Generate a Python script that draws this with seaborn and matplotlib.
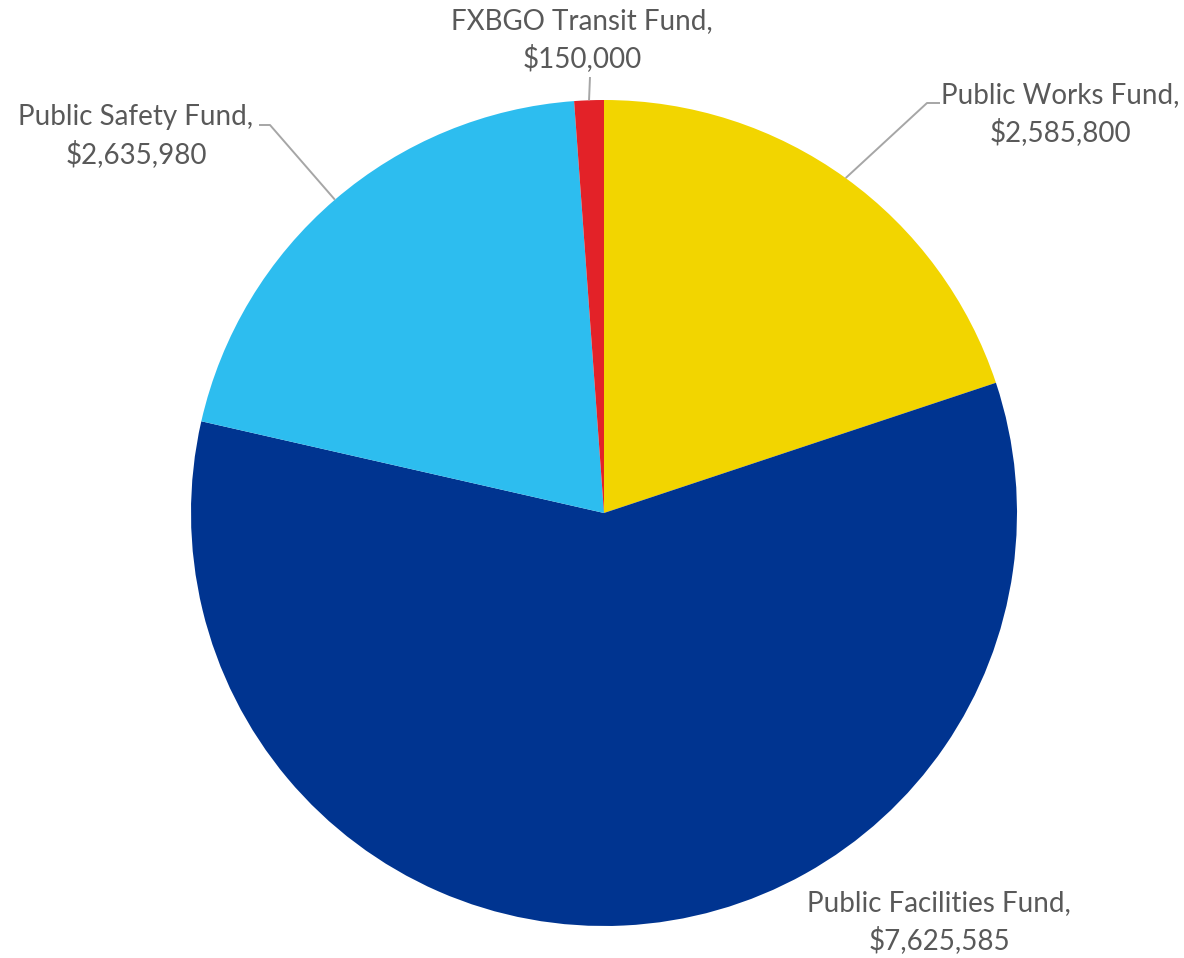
import matplotlib.pyplot as plt
import seaborn as sns
import numpy as np

sns.set_theme(style="white")
plt.rcParams['font.family'] = ['Lato', 'DejaVu Sans']

# ---- data ----
funds = ['Public Works Fund', 'Public Facilities Fund', 'Public Safety Fund', 'FXBGO Transit Fund']
amounts = [2585800, 7625585, 2635980, 150000]
colors = ['#F2D500', '#003490', '#2DBDEF', '#E32228']

TEXT = '#595959'
LINE = '#A6A6A6'

# figure is 1184x958 px; pie centre at (604, 513) px, radius 413 px
W, H, R = 1184, 958, 413
CX, CY = 604, 513
fig = plt.figure(figsize=(W / 100, H / 100), dpi=100)
ax = fig.add_axes([0, 0, 1, 1])

def px(x, y):
    # pixel position -> data position (radius 1 pie)
    return (x - CX) / R, (CY - y) / R

wedges, _ = ax.pie(amounts, colors=sns.color_palette(colors), startangle=90,
                   counterclock=False, radius=1,
                   wedgeprops=dict(linewidth=0))

ax.set_xlim(px(0, 0)[0], px(W, 0)[0])
ax.set_ylim(px(0, H)[1], px(0, 0)[1])
ax.set_aspect('auto')
ax.axis('off')

def mid_point(w):
    ang = np.deg2rad((w.theta1 + w.theta2) / 2)
    return np.cos(ang), np.sin(ang)

labels = [f'{f},\n${a:,.0f}' for f, a in zip(funds, amounts)]

# label text positions (pixels) and leader elbows
text_pos = [(1060, 114), (939, 922), (136, 136), (582, 40)]
leaders = [
    [(927, 103), (940, 103)],   # public works
    None,                       # public facilities, no leader
    [(270, 125), (259, 125)],   # public safety
    [(590, 77)],                # fxbgo
]

for w, lab, tp, ld in zip(wedges, labels, text_pos, leaders):
    tx, ty = px(*tp)
    ax.text(tx, ty, lab, ha='center', va='center', fontsize=20,
            color=TEXT, linespacing=1.45)
    if ld is not None:
        mx, my = mid_point(w)
        pts = [(mx, my)] + [px(*p) for p in ld]
        xs, ys = zip(*pts)
        ax.plot(xs, ys, color=LINE, lw=1.4, solid_capstyle='butt')

fig.savefig('out.png', dpi=100, facecolor='white')
